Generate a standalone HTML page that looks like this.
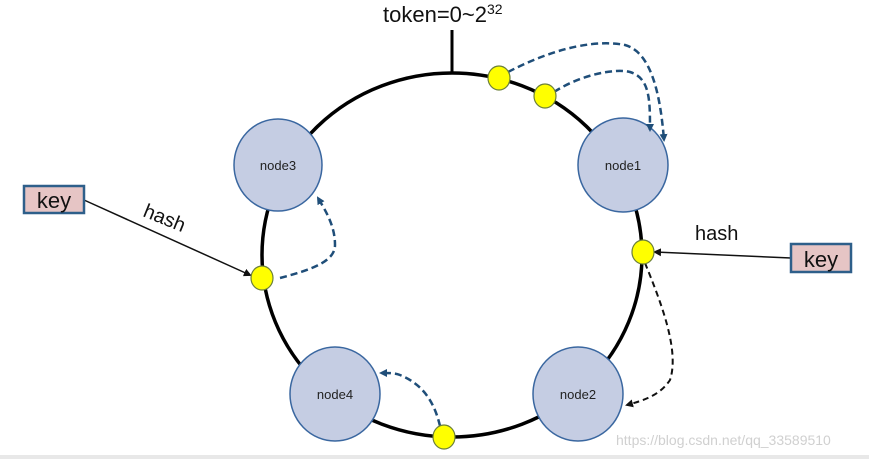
<!DOCTYPE html>
<html><head><style>
body{margin:0;background:#fff;width:869px;height:459px;overflow:hidden}
</style></head><body>
<svg width="869" height="459" xmlns="http://www.w3.org/2000/svg" font-family="Liberation Sans, sans-serif">
<defs>
<marker id="ab" markerWidth="8" markerHeight="8" refX="6" refY="4" orient="auto" markerUnits="userSpaceOnUse"><path d="M0,0 L8,4 L0,8 z" fill="#1f4e79"/></marker>
<marker id="ak" markerWidth="8" markerHeight="8" refX="6" refY="4" orient="auto" markerUnits="userSpaceOnUse"><path d="M0,0 L8,4 L0,8 z" fill="#111"/></marker>
</defs>
<rect x="0" y="455" width="869" height="4" fill="#e8e8e8"/>
<ellipse cx="452" cy="255" rx="190" ry="182" fill="none" stroke="#000" stroke-width="3.5"/>
<line x1="452" y1="30" x2="452" y2="73" stroke="#000" stroke-width="3"/>
<text x="383" y="22" font-size="22" fill="#111">token=0~2<tspan font-size="14" dy="-8">32</tspan></text>
<g fill="#c5cde3" stroke="#3a67a0" stroke-width="1.5">
<ellipse cx="278" cy="165" rx="44" ry="46"/>
<ellipse cx="623" cy="165" rx="45" ry="47"/>
<ellipse cx="335" cy="394" rx="45" ry="47"/>
<ellipse cx="578" cy="394" rx="45" ry="47"/>
</g>
<g font-size="13" fill="#222" text-anchor="middle">
<text x="278" y="170">node3</text><text x="623" y="170">node1</text>
<text x="335" y="399">node4</text><text x="578" y="399">node2</text>
</g>
<g fill="none" stroke="#1f4e79" stroke-width="2.5" stroke-dasharray="7,4">
<path d="M508,72 C560,45 600,40 625,45 C650,52 660,90 664,140" marker-end="url(#ab)"/>
<path d="M554,92 C580,75 615,68 630,72 C650,78 650,100 650,130" marker-end="url(#ab)"/>
<path d="M280,278 C310,270 335,262 335,245 C335,225 325,210 318,198" marker-end="url(#ab)"/>
<path d="M440,426 C435,405 425,385 400,375 C395,373 390,373 381,373" marker-end="url(#ab)"/>
</g>
<path d="M645,263 C660,300 680,350 670,380 C660,395 645,400 627,405" fill="none" stroke="#111" stroke-width="2" stroke-dasharray="6,4" marker-end="url(#ak)"/>
<line x1="84" y1="200" x2="250" y2="275" stroke="#111" stroke-width="1.5" marker-end="url(#ak)"/>
<line x1="791" y1="258" x2="655" y2="252" stroke="#111" stroke-width="1.5" marker-end="url(#ak)"/>
<g fill="#ffff00" stroke="#6b7f3a" stroke-width="1.2">
<ellipse cx="499" cy="78" rx="11" ry="12"/>
<ellipse cx="545" cy="96" rx="11" ry="12"/>
<ellipse cx="262" cy="278" rx="11" ry="12"/>
<ellipse cx="643" cy="252" rx="11" ry="12"/>
<ellipse cx="444" cy="437" rx="11" ry="12"/>
</g>
<rect x="24" y="186" width="60" height="27" fill="#e6c5c5" stroke="#2e5f8a" stroke-width="2.5"/>
<text x="54" y="208" font-size="22" text-anchor="middle" fill="#111">key</text>
<rect x="791" y="244" width="60" height="28" fill="#e6c5c5" stroke="#2e5f8a" stroke-width="2.5"/>
<text x="821" y="267" font-size="22" text-anchor="middle" fill="#111">key</text>
<text x="142" y="216" font-size="20" fill="#111" transform="rotate(22 142 216)">hash</text>
<text x="695" y="240" font-size="20" fill="#111">hash</text>
<text x="616" y="445" font-size="14" fill="#d0d0d0">https://blog.csdn.net/qq_33589510</text>
</svg>
</body></html>
